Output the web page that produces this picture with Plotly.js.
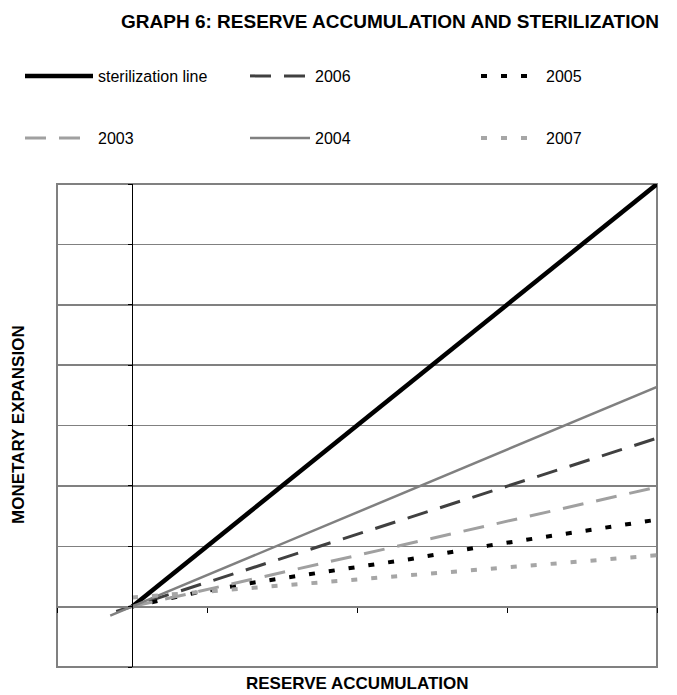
<!DOCTYPE html>
<html>
<head>
<meta charset="utf-8">
<script src="https://cdn.plot.ly/plotly-3.0.1.min.js"></script>
<style>html,body{margin:0;padding:0;background:#fff;}#chart{width:677px;height:695px;}</style>
</head>
<body>
<div id="chart"></div>
<script>
// Data (units of the axis grid)
var seriesNames = ["sterilization line", "2006", "2005", "2003", "2004", "2007"];
var xSterilization = [0, 7];
var ySterilization = [0, 7];
var x2006 = [-0.21, 7];
var y2006 = [-0.08, 2.79];
var x2005 = [0, 0.85, 1.63, 2.67, 3.72, 4.75, 7];
var y2005 = [0, 0.23, 0.40, 0.60, 0.79, 1.01, 1.44];
var x2003 = [0, 7];
var y2003 = [0, 1.98];
var x2004 = [-0.29, 7];
var y2004 = [-0.15, 3.64];
var x2007 = [0, 7];
var y2007 = [0.15, 0.85];

var xRange = [-1, 7];
var yRange = [-1, 7];
var chartTitle = "GRAPH 6: RESERVE ACCUMULATION AND STERILIZATION";
var xTitle = "RESERVE ACCUMULATION";
var yTitle = "MONETARY EXPANSION";

var FONT = "Liberation Sans, Arial, sans-serif";

function tr(x, y, name, legend, color, width, dash) {
  return {x: x, y: y, name: name, type: "scatter", mode: "lines", legend: legend,
          line: {color: color, width: width, dash: dash}, hoverinfo: "skip"};
}

var traces = [
  tr(xSterilization, ySterilization, seriesNames[0], "legend", "#000000", 4.5, "solid"),
  tr(x2006, y2006, seriesNames[1], "legend2", "#404040", 3, "21px,13px"),
  tr(x2005, y2005, seriesNames[2], "legend3", "#000000", 4, "6px,14px"),
  tr(x2003, y2003, seriesNames[3], "legend4", "#a0a0a0", 3, "21px,13px"),
  tr(x2004, y2004, seriesNames[4], "legend5", "#808080", 2.5, "solid"),
  tr(x2007, y2007, seriesNames[5], "legend6", "#a6a6a6", 4, "6px,14px")
];

var W = 677, H = 695;
var ML = 57, MR = 20, MT = 184, MB = 28;
var PW = W - ML - MR, PH = H - MT - MB;
function leg(px, py, iw) {
  return {xref: "container", yref: "container", x: px / W, y: 1 - py / H,
          xanchor: "left", yanchor: "middle", orientation: "h", itemwidth: iw,
          bgcolor: "rgba(0,0,0,0)", borderwidth: 0,
          font: {family: FONT, size: 16, color: "#000"}};
}

var layout = {
  width: W, height: H,
  margin: {l: ML, r: MR, t: MT, b: MB, pad: 0},
  paper_bgcolor: "#ffffff", plot_bgcolor: "#ffffff",
  showlegend: true,
  title: {text: "<b>" + chartTitle + "</b>",
          font: {family: FONT, size: 19, color: "#000"},
          x: 390 / W, xanchor: "center", xref: "container", y: 1 - 21 / H, yanchor: "middle"},
  legend: leg(20, 76, 68),
  legend2: leg(245, 76, 60),
  legend3: leg(476, 76, 60),
  legend4: leg(20, 138, 68),
  legend5: leg(245, 138, 60),
  legend6: leg(476, 138, 60),
  xaxis: {range: xRange, dtick: 2, tick0: -1, showgrid: false, zeroline: false,
          showticklabels: false, showline: true, linecolor: "#808080", linewidth: 2,
          ticks: "outside", ticklen: 5, tickcolor: "#000", tickwidth: 1,
          anchor: "free", position: 0.125, fixedrange: true},
  yaxis: {range: yRange, dtick: 1, tick0: -1, showgrid: true, gridcolor: "#808080", gridwidth: 1.5,
          zeroline: false, showticklabels: false, showline: true, linecolor: "#000", linewidth: 1,
          ticks: "outside", ticklen: 4, tickcolor: "#000", tickwidth: 1,
          anchor: "free", position: 0.125, fixedrange: true},
  annotations: [
    {text: "<b>" + xTitle + "</b>", xref: "paper", yref: "paper", x: 0.5, y: -(683 - (H - MB)) / PH,
     xanchor: "center", yanchor: "middle", showarrow: false,
     font: {family: FONT, size: 17, color: "#000"}},
    {text: "<b>" + yTitle + "</b>", xref: "paper", yref: "paper", x: (18 - ML) / PW, y: 1 - (425 - MT) / PH,
     xanchor: "center", yanchor: "middle", textangle: -90, showarrow: false,
     font: {family: FONT, size: 17, color: "#000"}}
  ],
  shapes: [
    {type: "rect", xref: "paper", yref: "paper", x0: 0, x1: 1, y0: 0, y1: 1,
     line: {color: "#808080", width: 2}, layer: "below"}
  ]
};

Plotly.newPlot("chart", traces, layout, {displayModeBar: false, staticPlot: true});
</script>
</body>
</html>
